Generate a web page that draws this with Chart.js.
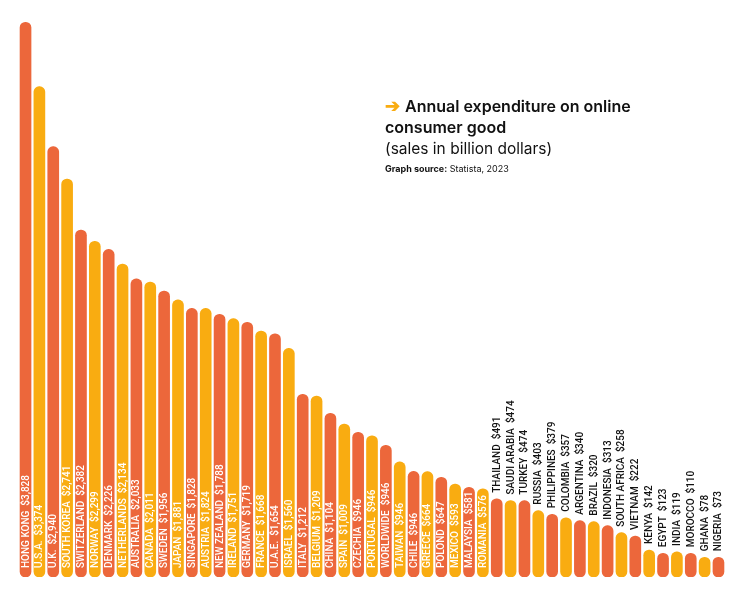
<!DOCTYPE html>
<html>
<head>
<meta charset="utf-8">
<script src="https://cdn.jsdelivr.net/npm/chart.js@4.4.0/dist/chart.umd.min.js"></script>
<style>
  body { margin: 0; background: #fff; }
  .wrap { position: relative; width: 740px; height: 590px; }
  .title { position: absolute; left: 385px; top: 95px; font-family: Inter, "Noto Sans", sans-serif; color: #111; }
  .title .head { font-weight: 600; font-size: 16px; line-height: 21px; }
  .title .arrow { color: #f9ac11; font-weight: 700; font-size: 18px; margin-right: 5px; }
  .title .sub { font-size: 15.5px; line-height: 21px; margin-top: 0; }
  .title .src { font-size: 9px; margin-top: 4px; }
  .title .src b { font-weight: 700; }
</style>
</head>
<body>
<div class="wrap">
  <canvas id="c" width="740" height="590"></canvas>
  <div class="title">
    <div class="head"><span class="arrow">➔</span>Annual expenditure on online<br>consumer good</div>
    <div class="sub">(sales in billion dollars)</div>
    <div class="src"><b>Graph source:</b> Statista, 2023</div>
  </div>
</div>
<script>
// country names as printed on the bars
const countries = [
  'HONG KONG', 'U.S.A.', 'U.K.', 'SOUTH KOREA', 'SWITZERLAND', 'NORWAY', 'DENMARK',
  'NETHERLANDS', 'AUSTRALIA', 'CANADA', 'SWEDEN', 'JAPAN', 'SINGAPORE', 'AUSTRIA',
  'NEW ZEALAND', 'IRELAND', 'GERMANY', 'FRANCE', 'U.A.E.', 'ISRAEL', 'ITALY', 'BELGIUM',
  'CHINA', 'SPAIN', 'CZECHIA', 'PORTUGAL', 'WORLDWIDE', 'TAIWAN', 'CHILE', 'GREECE',
  'POLOND', 'MEXICO', 'MALAYSIA', 'ROMANIA', 'THAILAND', 'SAUDI ARABIA', 'TURKEY',
  'RUSSIA', 'PHILIPPINES', 'COLOMBIA', 'ARGENTINA', 'BRAZIL', 'INDONESIA',
  'SOUTH AFRICA', 'VIETNAM', 'KENYA', 'EGYPT', 'INDIA', 'MOROCCO', 'GHANA', 'NIGERIA'
];

// values written in the labels
const sales = [
  3828, 3374, 2940, 2741, 2382, 2299, 2226, 2134, 2033, 2011, 1956, 1881, 1828, 1824,
  1788, 1751, 1719, 1668, 1654, 1560, 1212, 1209, 1104, 1009, 946, 946, 946, 946, 946,
  664, 647, 593, 581, 576, 491, 474, 474, 403, 379, 357, 340, 320, 313, 258, 222, 142,
  123, 119, 110, 78, 73
];

// bar heights as drawn in the picture (same units, not always equal to the label)
const barHeights = [
  3828, 3384, 2970, 2747, 2395, 2317, 2261, 2160, 2057, 2036, 1974, 1912, 1854, 1854,
  1813, 1783, 1758, 1698, 1679, 1578, 1261, 1249, 1130, 1056, 999, 975, 909, 794, 729,
  727, 688, 642, 619, 609, 540, 528, 527, 458, 433, 409, 389, 382, 354, 306, 283, 186,
  164, 173, 164, 136, 136
];

const RED = '#ec673b';
const YELLOW = '#f9ac11';
const firstOutside = 34; // from THAILAND on the label sits above the bar

const barLabels = {
  id: 'barLabels',
  afterDatasetsDraw(chart) {
    const ctx = chart.ctx;
    const meta = chart.getDatasetMeta(0);
    meta.data.forEach((bar, i) => {
      const inside = i < firstOutside;
      const text = countries[i] + '  $' + sales[i].toLocaleString('en-US');
      ctx.save();
      ctx.translate(bar.x, inside ? bar.base - 9 : bar.y - 6);
      ctx.rotate(-Math.PI / 2);
      ctx.font = '500 10px Roboto';
      ctx.fillStyle = inside ? '#ffffff' : '#111111';
      ctx.textAlign = 'left';
      ctx.textBaseline = 'middle';
      ctx.fillText(text, 0, 0.5);
      ctx.restore();
    });
  }
};

new Chart(document.getElementById('c'), {
  type: 'bar',
  data: {
    labels: countries,
    datasets: [{
      data: barHeights,
      backgroundColor: countries.map((_, i) => i % 2 === 0 ? RED : YELLOW),
      borderRadius: 5.5,
      borderSkipped: false,
      barThickness: 11
    }]
  },
  options: {
    responsive: false,
    animation: false,
    layout: { padding: { left: 18.6, right: 14.6, top: 10, bottom: 13 } },
    scales: {
      x: { display: false },
      y: { display: false, min: 0, max: 3913 }
    },
    plugins: {
      legend: { display: false },
      tooltip: { enabled: false }
    }
  },
  plugins: [barLabels]
});
</script>
</body>
</html>
